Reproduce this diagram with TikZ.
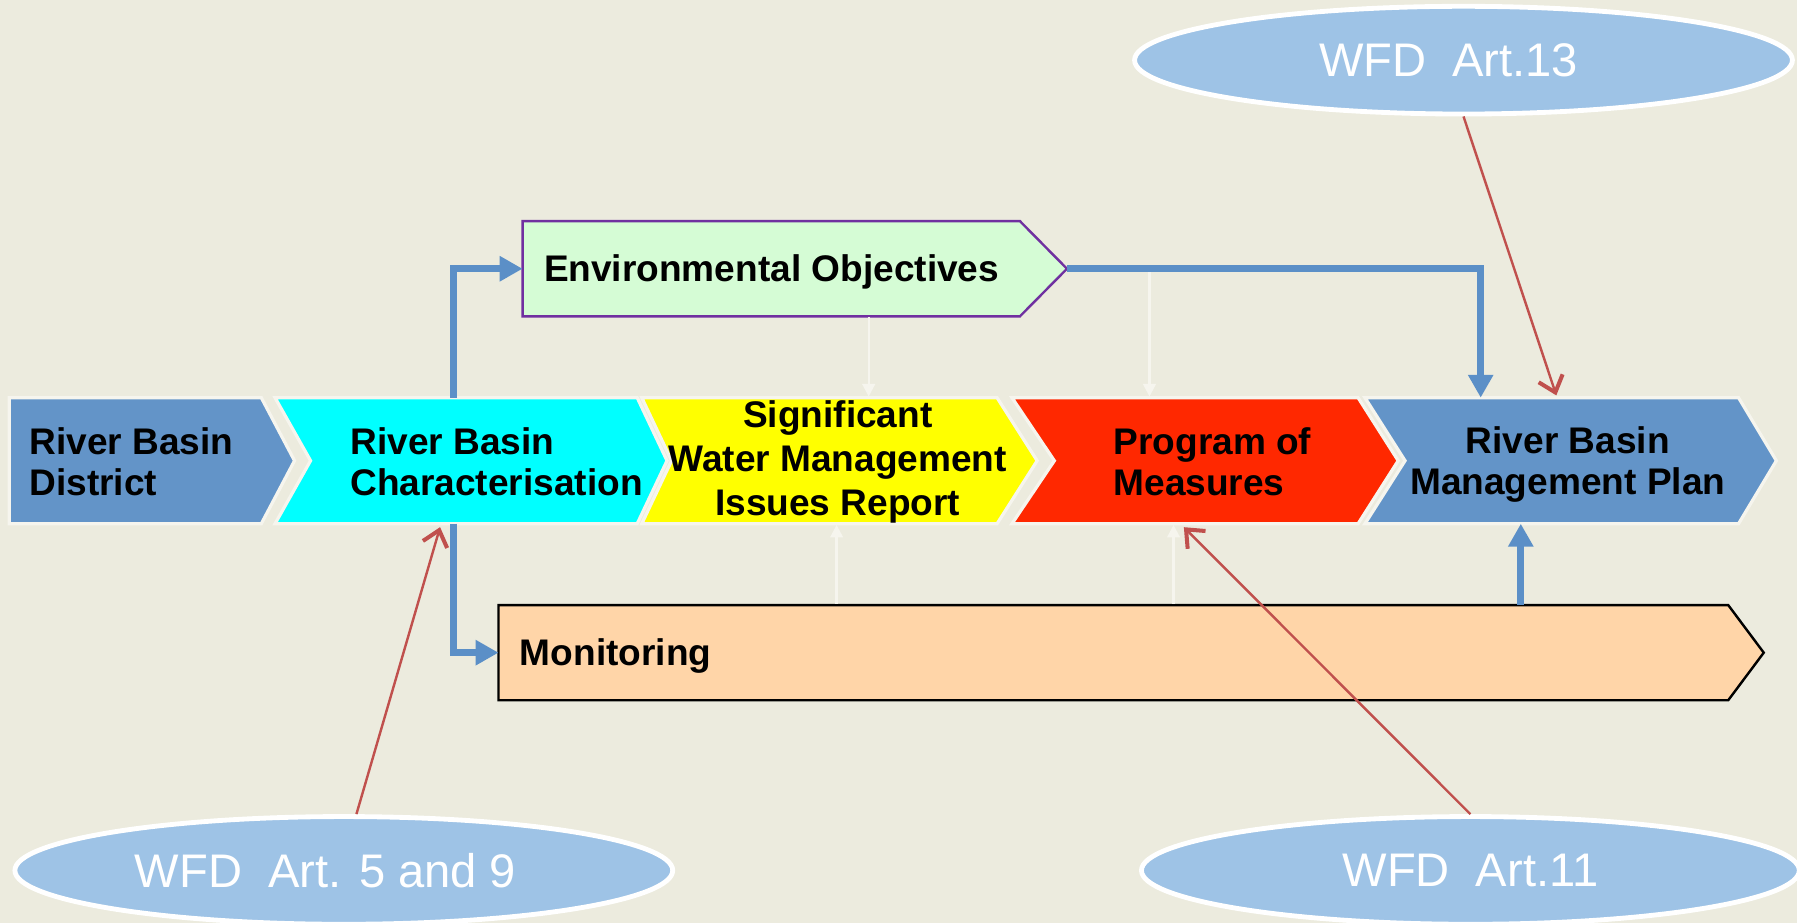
\documentclass[tikz,border=0pt]{standalone}
\usepackage{fontspec}
\setmainfont{Liberation Sans}
\usetikzlibrary{
  arrows.meta,
  shapes.geometric
}
\definecolor{paper}{RGB}{236,235,222}
\definecolor{basinblue}{RGB}{99,148,200}
\definecolor{charcyan}{RGB}{0,255,255}
\definecolor{sigyellow}{RGB}{255,255,0}
\definecolor{pomred}{RGB}{255,40,0}
\definecolor{objgreen}{RGB}{213,252,213}
\definecolor{objpurple}{RGB}{112,48,160}
\definecolor{monpeach}{RGB}{255,213,168}
\definecolor{flowblue}{RGB}{91,143,199}
\definecolor{artred}{RGB}{192,80,77}
\definecolor{artfill}{RGB}{158,195,230}
\definecolor{faint}{RGB}{246,245,238}
\tikzset{
  chevron/.style={draw=faint, line width=0.8pt},
  boxtext/.style={inner sep=0pt, align=left, font=\fontsize{9.2}{10.25}\selectfont\bfseries},
  flow/.style={draw=flowblue, line width=1.7pt, -{Triangle[length=2mm, width=2.1mm]}},
  ref/.style={draw=artred, line width=0.6pt, -{Straight Barb[length=1.3mm, width=2.2mm, line width=1pt]}},
  hint/.style={draw=faint, line width=0.6pt, -{Triangle[length=1.1mm, width=1.1mm]}},
  article/.style={ellipse, fill=artfill, draw=white, line width=1.2pt, minimum width=57.4mm,
    minimum height=9.4mm, inner sep=0pt, text=white, font=\fontsize{11.7}{14}\selectfont}
}

\begin{document}
\begin{tikzpicture}[x=0.1mm, y=-0.1mm]
  \fill[paper] (0,0) rectangle (1568,805);
  \useasboundingbox (0,0) rectangle (1568,805);

  % the main row
  \filldraw[chevron, fill=basinblue] (8,347) -- (228,347) -- (257,402) -- (228,457) -- (8,457) -- cycle;
  \filldraw[chevron, fill=charcyan] (240,347) -- (556,347) -- (582,402) -- (556,457) -- (240,457) -- (271,402) -- cycle;
  \filldraw[chevron, fill=sigyellow] (560,347) -- (870,347) -- (905,402) -- (870,457) -- (560,457) -- (586,402) -- cycle;
  \filldraw[chevron, fill=pomred] (883,347) -- (1185,347) -- (1220,402) -- (1185,457) -- (883,457) -- (920,402) -- cycle;
  \filldraw[chevron, fill=basinblue] (1191,347) -- (1517,347) -- (1550,402) -- (1517,457) -- (1191,457) -- (1226,402) -- cycle;
  \node[boxtext, anchor=west] (dist) at (25,403) {River Basin\\District};
  \node[boxtext, anchor=west] (char) at (305,403) {River Basin\\Characterisation};
  \node[boxtext, align=center, font=\fontsize{9.2}{10.95}\selectfont\bfseries] (sig) at (731,403) {Significant\\Water Management\\Issues Report};
  \node[boxtext, anchor=west] (pom) at (971,403) {Program of\\Measures};
  \node[boxtext, align=center] (plan) at (1368,405) {River Basin\\Management Plan};

  % objectives and monitoring
  \filldraw[fill=objgreen, draw=objpurple, line width=0.6pt] (456,193) -- (890,193) -- (931,234.5) -- (890,276) -- (456,276) -- cycle;
  \filldraw[fill=monpeach, draw=black, line width=0.6pt] (435,528) -- (1508,528) -- (1539,569.5) -- (1508,611) -- (435,611) -- cycle;
  \node[boxtext, anchor=base west] (obj) at (474,246) {Environmental Objectives};
  \node[boxtext, anchor=base west] (mon) at (453,581) {Monitoring};

  % directive articles
  \node[article] (art13) at (1277,52.5) {\hspace*{-2.6mm}WFD\ \ Art.13};
  \node[article] (art59) at (300,759.5) {\hspace*{-3.2mm}WFD\ \ Art. 5 and 9};
  \node[article] (art11) at (1283,759.5) {WFD\ \ Art.11};

  \coordinate (charN) at (396,347);
  \coordinate (charS) at (396,457);
  \coordinate (charB) at (384,460);
  \coordinate (objW) at (456,234.5);
  \coordinate (objE) at (931,234.5);
  \coordinate (objS) at (758,277);
  \coordinate (objR) at (1003,237);
  \coordinate (sigN) at (758,346);
  \coordinate (sigS) at (730,458);
  \coordinate (pomN) at (1003,346);
  \coordinate (pomS) at (1024,458);
  \coordinate (pomB) at (1033,460);
  \coordinate (planN) at (1292,347);
  \coordinate (planS) at (1327,457);
  \coordinate (planT) at (1358,345);
  \coordinate (monW) at (435,569.5);
  \coordinate (monN) at (1327,528);
  \coordinate (monA) at (730,527);
  \coordinate (monB) at (1024,527);

  \draw[hint] (objS) -- (sigN);
  \draw[hint] (objR) -- (pomN);
  \draw[hint] (monA) -- (sigS);
  \draw[hint] (monB) -- (pomS);

  \draw[flow] (charN) |- (objW);
  \draw[flow] (objE) -| (planN);
  \draw[flow] (charS) |- (monW);
  \draw[flow] (monN) -- (planS);

  \draw[ref] ([xshift=1.1mm]art59.north) -- (charB);
  \draw[ref] (art11.north) -- (pomB);
  \draw[ref] (art13.south) -- (planT);
\end{tikzpicture}
\end{document}
